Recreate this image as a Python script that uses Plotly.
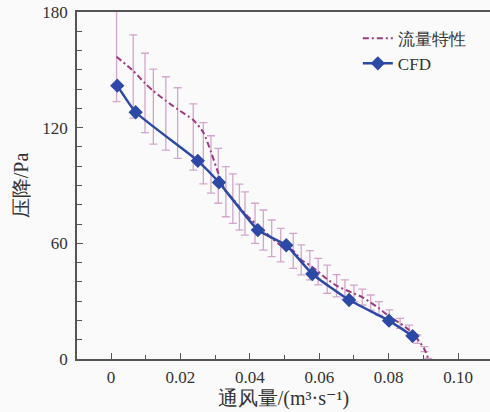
import plotly.graph_objects as go

# CFD series
cfd_x = [0.0018, 0.0071, 0.0250, 0.0311, 0.0423, 0.0505, 0.0580, 0.0686, 0.0801, 0.0869]
cfd_y = [141.8, 128.0, 102.8, 91.6, 66.9, 59.0, 44.1, 30.6, 19.9, 11.9]

# Flow characteristic series (dash-dot line) with its error bars
flow_x = [0.0016, 0.0064, 0.0098, 0.0122, 0.0158, 0.0192, 0.0237, 0.0266, 0.0288, 0.0309,
          0.0331, 0.0351, 0.0370, 0.0386, 0.0415, 0.0439, 0.0463, 0.0489, 0.0525, 0.0548,
          0.0573, 0.0597, 0.0623, 0.0650, 0.0674, 0.0700, 0.0724, 0.0748, 0.0772, 0.0802,
          0.0833, 0.0859, 0.0883, 0.0903, 0.0914]
flow_y = [156.8, 149.5, 143.0, 139.0, 134.0, 129.5, 124.0, 117.5, 107.5, 96.5,
          86.8, 83.2, 78.8, 75.5, 70.4, 66.9, 62.6, 59.1, 56.1, 51.4,
          48.6, 45.3, 41.4, 38.0, 36.0, 34.0, 32.1, 29.3, 26.3, 22.0,
          18.5, 15.0, 10.3, 5.1, 0.3]
flow_err_plus = [27.8, 18.6, 15.6, 11.4, 12.4, 11.2, 8.3, 5.1, 8.3, 12.8,
                 13.0, 12.8, 11.9, 11.2, 10.4, 10.4, 9.5, 8.7, 9.1, 7.8,
                 7.6, 6.9, 7.3, 5.8, 5.0, 4.3, 4.1, 3.9, 3.5, 3.5,
                 2.6, 2.6, 2.2, 1.3, 0.0]
flow_err_minus = [23.3, 24.6, 25.6, 27.5, 25.6, 25.4, 26.0, 26.7, 21.5, 15.7,
                  13.0, 12.8, 11.9, 11.2, 10.4, 10.4, 9.5, 8.7, 9.1, 7.8,
                  7.6, 6.9, 7.3, 5.8, 5.0, 4.3, 4.1, 3.9, 3.5, 3.5,
                  2.6, 2.6, 2.2, 1.3, 0.0]

x_ticks = [0, 0.02, 0.04, 0.06, 0.08, 0.10]
x_ticklabels = ["0", "0.02", "0.04", "0.06", "0.08", "0.10"]
y_ticks = [0, 60, 120, 180]

FONT = "Liberation Serif, DejaVu Serif, serif"
AXIS_COLOR = "#555555"

fig = go.Figure()
fig.add_trace(go.Scatter(
    x=flow_x, y=flow_y, name="流量特性", mode="lines",
    line=dict(color="#9C3C80", width=2, dash="6px,3px,2px,3px",
              shape="spline", smoothing=0.6),
    error_y=dict(type="data", array=flow_err_plus, arrayminus=flow_err_minus,
                 color="#D3A5CB", thickness=1.3, width=4),
    cliponaxis=False,
))
fig.add_trace(go.Scatter(
    x=cfd_x, y=cfd_y, name="CFD", mode="lines+markers",
    line=dict(color="#2D49A6", width=2.5, shape="spline", smoothing=0.4),
    marker=dict(symbol="diamond", size=11, color="#2D49A6"),
))

fig.update_layout(
    width=490, height=412,
    margin=dict(l=77, r=0, t=12, b=53, autoexpand=False),
    paper_bgcolor="#FAFAFA", plot_bgcolor="#FAFAFA",
    font=dict(family=FONT, size=17, color="#333333"),
    showlegend=True,
    legend=dict(x=0.68, y=0.975, xanchor="left", yanchor="top",
                bgcolor="rgba(0,0,0,0)", font=dict(size=17), tracegroupgap=0),
    xaxis=dict(
        range=[-0.0098, 0.1092], tickvals=x_ticks, ticktext=x_ticklabels,
        ticks="inside", ticklen=6, tickwidth=1.2, tickcolor=AXIS_COLOR,
        minor=dict(dtick=0.01, tick0=0, ticks="inside", ticklen=4, tickcolor=AXIS_COLOR),
        showline=True, linecolor=AXIS_COLOR, linewidth=1.6, mirror=True,
        showgrid=False, zeroline=False, automargin=False,
        title=dict(text="通风量/(m³·s⁻¹)", standoff=4),
        ticklabelstandoff=2, ticklabeloverflow="allow",
    ),
    yaxis=dict(
        range=[0, 180], tickvals=y_ticks,
        ticks="inside", ticklen=6, tickwidth=1.2, tickcolor=AXIS_COLOR,
        minor=dict(dtick=10, tick0=0, ticks="inside", ticklen=5, tickcolor=AXIS_COLOR),
        showline=True, linecolor=AXIS_COLOR, linewidth=1.6,
        showgrid=False, zeroline=False, automargin=False,
        title=dict(text="压降/Pa", standoff=8),
        ticklabelstandoff=4, ticklabeloverflow="allow",
    ),
)

fig.write_html("out.html",
               config={"displayModeBar": False},
               post_script="document.body.style.margin='0';document.body.style.background='#FAFAFA';")
